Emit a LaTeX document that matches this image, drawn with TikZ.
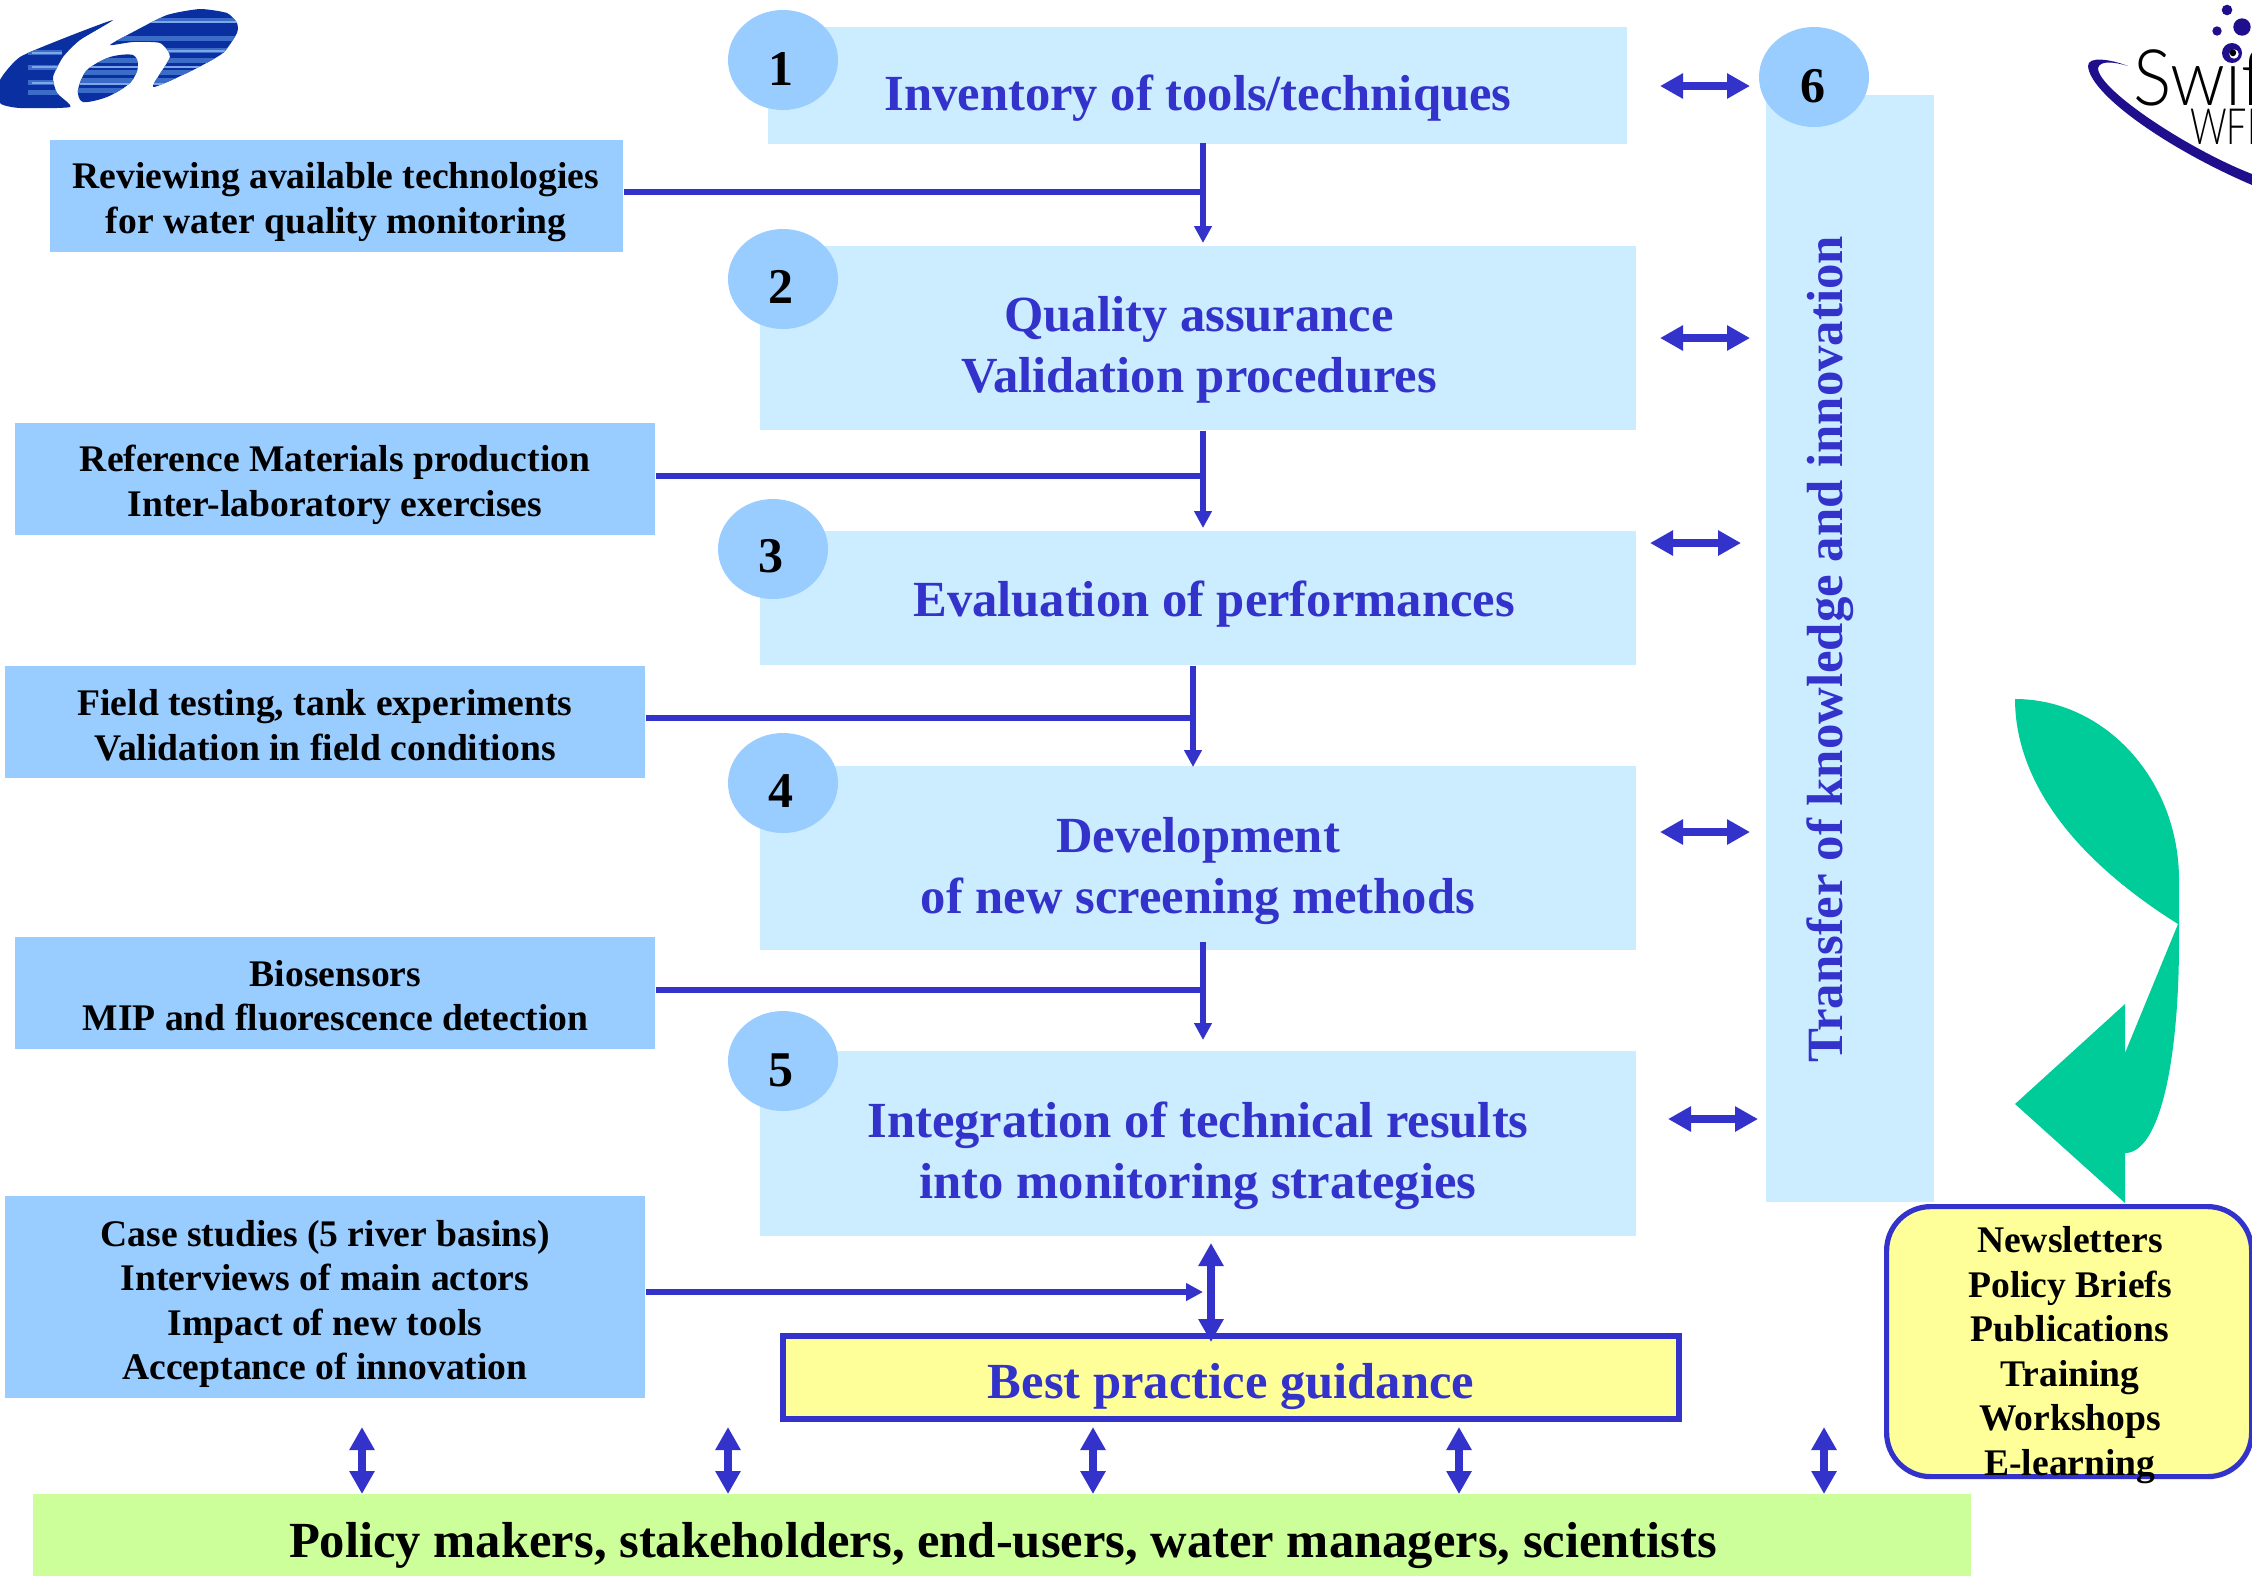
\documentclass[tikz,border=0pt]{standalone}
\usepackage{fontspec}
\setmainfont{Liberation Serif}
\newfontfamily\logofont{Lato Light}
\usetikzlibrary{arrows.meta,shapes.geometric,calc}
\definecolor{ink}{HTML}{3333CC}
\definecolor{paleblue}{HTML}{CCECFF}
\definecolor{midblue}{HTML}{99CCFF}
\definecolor{paleyellow}{HTML}{FFFF99}
\definecolor{palegreen}{HTML}{CCFF99}
\definecolor{teal}{HTML}{00CC99}
\definecolor{swoosh}{HTML}{1F0F8C}
\definecolor{logodark}{HTML}{0A2FA0}
\definecolor{logomid}{HTML}{3A6CC8}
\definecolor{logolight}{HTML}{7FA6E6}
\newcommand{\logobands}[1]{%
  \fill[logodark] (0,0) rectangle (240,112);
  \foreach \yy in {18,36,48,58,70,78,88}{\fill[logomid] (#1,\yy) rectangle (240,\yy+5);}
  \foreach \yy in {21,50,66,83}{\fill[logolight] (#1,\yy) rectangle (240,\yy+2);}
}
\tikzset{
  x=0.5pt,y=-0.5pt,
  mainbox/.style={fill=paleblue,draw=none,inner sep=0pt},
  sidebox/.style={fill=midblue,draw=none,inner sep=0pt},
  disc/.style={ellipse,fill=midblue,draw=none,inner sep=0pt,minimum width=55pt,minimum height=50pt},
  headtext/.style={inner sep=0pt,align=center,text=ink,font=\fontsize{25.3}{30.5}\selectfont\bfseries},
  sidetext/.style={inner sep=0pt,align=center,text=black,font=\fontsize{18.8}{22.3}\selectfont\bfseries},
  numtext/.style={inner sep=0pt,text=black,font=\fontsize{25}{30}\selectfont\bfseries},
  conn/.style={draw=ink,line width=2.8pt},
  connarrow/.style={conn,-{Triangle[length=8.5pt,width=8.5pt]}},
  twoway/.style={draw=ink,line width=4pt,{Triangle[length=11.5pt,width=12pt]}-{Triangle[length=11.5pt,width=12pt]}},
}
\begin{document}
\begin{tikzpicture}
\useasboundingbox (0,0) rectangle (2252,1576);
\fill[white] (0,0) rectangle (2252,1576);

% left logo
\begin{scope}
\clip plot[smooth cycle,tension=0.35] coordinates {(113,20)(67,37)(20,57)(0,80)(0,103)(20,108)(70,107)(57,93)(53,77)(63,57)(80,40)};
\fill[logodark] (0,0) rectangle (240,112);
\foreach \yy in {50,65,80,90}{\fill[logomid] (28,\yy) rectangle (62,\yy+5);}
\foreach \yy in {52,66,82}{\fill[logolight] (32,\yy) rectangle (62,\yy+2);}
\end{scope}
\begin{scope}
\clip plot[smooth cycle,tension=0.35] coordinates {(133,32)(167,15)(200,9)(227,13)(237,23)(237,33)(223,53)(193,70)(153,87)(170,57)(160,43)(133,42)(110,45)};
\logobands{100}
\end{scope}
\begin{scope}
\clip plot[smooth cycle,tension=0.5] coordinates {(78,90)(87,70)(110,57)(133,55)(138,67)(130,83)(107,97)(83,102)};
\logobands{70}
\end{scope}

% right logo
\fill[swoosh] (2128,66) .. controls (2110,59) and (2088,56) .. (2088,66)
  .. controls (2090,95) and (2170,150) .. (2252,185) -- (2252,174)
  .. controls (2190,150) and (2098,90) .. (2098,68)
  .. controls (2100,60) and (2115,62) .. (2128,66) -- cycle;
\fill[swoosh] (2227,10) circle[radius=5.3] (2242,27) circle[radius=8.7] (2217,31) circle[radius=4.7] (2232,53) circle[radius=10];
\fill[white] (2234,54) circle[radius=4.7];
\node[anchor=base west,inner sep=0pt,xscale=0.92,font=\logofont\fontsize{39}{39}\selectfont,text=black] (swifname) at (2133,105) {Swif};
\node[anchor=base west,inner sep=0pt,xscale=0.72,font=\logofont\fontsize{25}{25}\selectfont,text=black] (wfname) at (2190,144) {WFI};

% transfer column
\node[mainbox,anchor=north west,minimum width=84pt,minimum height=553.5pt] (col) at (1766,95) {};
\node[headtext,rotate=90,font=\fontsize{25.4}{30}\selectfont\bfseries] (coltext) at (1830,649) {Transfer of knowledge and innovation};

% main boxes
\node[mainbox,anchor=north west,minimum width=429.5pt,minimum height=58.5pt] (b1) at (768,27) {};
\node[mainbox,anchor=north west,minimum width=438pt,minimum height=92pt] (b2) at (760,246) {};
\node[mainbox,anchor=north west,minimum width=438pt,minimum height=67pt] (b3) at (760,531) {};
\node[mainbox,anchor=north west,minimum width=438pt,minimum height=92pt] (b4) at (760,766) {};
\node[mainbox,anchor=north west,minimum width=438pt,minimum height=92.5pt] (b5) at (760,1051) {};
\node[headtext] (t1) at (1198,98) {Inventory of tools/techniques};
\node[headtext] (t2) at (1199,350) {Quality assurance\\Validation procedures};
\node[headtext] (t3) at (1214,604) {Evaluation of performances};
\node[headtext] (t4) at (1198,871) {Development\\of new screening methods};
\node[headtext] (t5) at (1198,1156) {Integration of technical results\\into monitoring strategies};

% discs
\node[disc] (d1) at (783,60) {};
\node[disc] (d2) at (783,279) {};
\node[disc] (d3) at (773,549) {};
\node[disc] (d4) at (783,783) {};
\node[disc] (d5) at (783,1061) {};
\node[disc] (d6) at (1814,77) {};
\node[numtext] (n1) at (781,69) {1};
\node[numtext] (n2) at (781,287) {2};
\node[numtext] (n3) at (771,556) {3};
\node[numtext] (n4) at (781,791) {4};
\node[numtext] (n5) at (781,1070) {5};
\node[numtext] (n6) at (1813,86) {6};

% side boxes
\node[sidebox,anchor=north west,minimum width=286.5pt,minimum height=56pt] (sa) at (50,140) {};
\node[sidebox,anchor=north west,minimum width=320pt,minimum height=56pt] (sb) at (15,423) {};
\node[sidebox,anchor=north west,minimum width=320pt,minimum height=56pt] (sc) at (5,666) {};
\node[sidebox,anchor=north west,minimum width=320pt,minimum height=56pt] (sd) at (15,937) {};
\node[sidebox,anchor=north west,minimum width=320pt,minimum height=101pt] (se) at (5,1196) {};
\node[sidetext] (ta) at (336,202) {Reviewing available technologies\\for water quality monitoring};
\node[sidetext] (tb) at (335,485) {Reference Materials production\\Inter-laboratory exercises};
\node[sidetext] (tc) at (325,725) {Field testing, tank experiments\\Validation in field conditions};
\node[sidetext] (td) at (335.5,995.5) {Biosensors\\MIP and fluorescence detection};
\node[sidetext] (te) at (325,1304) {Case studies (5 river basins)\\Interviews of main actors\\Impact of new tools\\Acceptance of innovation};

% guidance box and audience bar
\node[fill=paleyellow,draw=ink,line width=3pt,anchor=north west,inner sep=0pt,minimum width=448pt,minimum height=41.5pt] (best) at (780,1333) {};
\node[headtext] (besttext) at (1231,1386) {Best practice guidance};
\node[fill=palegreen,draw=none,anchor=north west,inner sep=0pt,minimum width=969pt,minimum height=41pt] (bar) at (33,1494) {};
\node[inner sep=0pt,text=black,font=\fontsize{25.3}{30}\selectfont\bfseries] (bartext) at (1003,1545) {Policy makers, stakeholders, end-users, water managers, scientists};

% outputs box
\node[fill=paleyellow,draw=ink,line width=2.6pt,rounded corners=22pt,anchor=north west,inner sep=0pt,minimum width=182.5pt,minimum height=135pt] (out) at (1884,1204) {};
\node[sidetext] (outtext) at (2070,1355) {Newsletters\\Policy Briefs\\Publications\\Training\\Workshops\\E-learning};

% curved arrow
\fill[teal] (2015,699) .. controls (2105,699) and (2179,780) .. (2179,880) -- (2179,941)
  .. controls (2179,1060) and (2160,1153) .. (2125,1153) -- (2125,1203) -- (2015,1104) -- (2125,1004) -- (2125,1053) -- (2178,924)
  .. controls (2060,850) and (2015,770) .. (2015,699) -- cycle;

% connectors
\coordinate (j1) at (1203,192);
\coordinate (j2) at (1203,476);
\coordinate (j3) at (1193,718);
\coordinate (j4) at (1203,990);
\coordinate (j5) at (1203,1292);
\draw[conn] (sa.east |- j1) -- (j1);
\draw[connarrow,shorten >=1.5pt,shorten <=-1pt] (b1.south -| j1) -- (b2.north -| j1);
\draw[conn] (sb.east |- j2) -- (j2);
\draw[connarrow,shorten >=1.5pt] (b2.south -| j2) -- (b3.north -| j2);
\draw[conn] (sc.east |- j3) -- (j3);
\draw[connarrow,shorten >=-0.5pt] (b3.south -| j3) -- (b4.north -| j3);
\draw[conn] (sd.east |- j4) -- (j4);
\draw[connarrow,shorten >=5.5pt,shorten <=-4.5pt] (b4.south -| j4) -- (b5.north -| j4);
\draw[connarrow] (se.east |- j5) -- (j5);
\coordinate (k0) at (1211,1243);
\draw[twoway,shorten >=-4.5pt] (k0) -- (best.north -| k0);

\foreach \nm/\xx in {m1/362,m2/728,m3/1093,m4/1459,m5/1824}{
  \coordinate (\nm) at (\xx,1427);
  \draw[twoway] (\nm) -- (bar.north -| \nm);
}

\coordinate (h1) at (1750,86);
\coordinate (h2) at (1750,338);
\coordinate (h3) at (1741,543);
\coordinate (h4) at (1750,832);
\coordinate (h5) at (1758,1119);
\draw[twoway] (1660,86) -- (h1);
\draw[twoway] (1660,338) -- (h2);
\draw[twoway] (1650,543) -- (h3);
\draw[twoway] (1660,832) -- (h4);
\draw[twoway] (1668,1119) -- (h5);
\end{tikzpicture}
\end{document}
